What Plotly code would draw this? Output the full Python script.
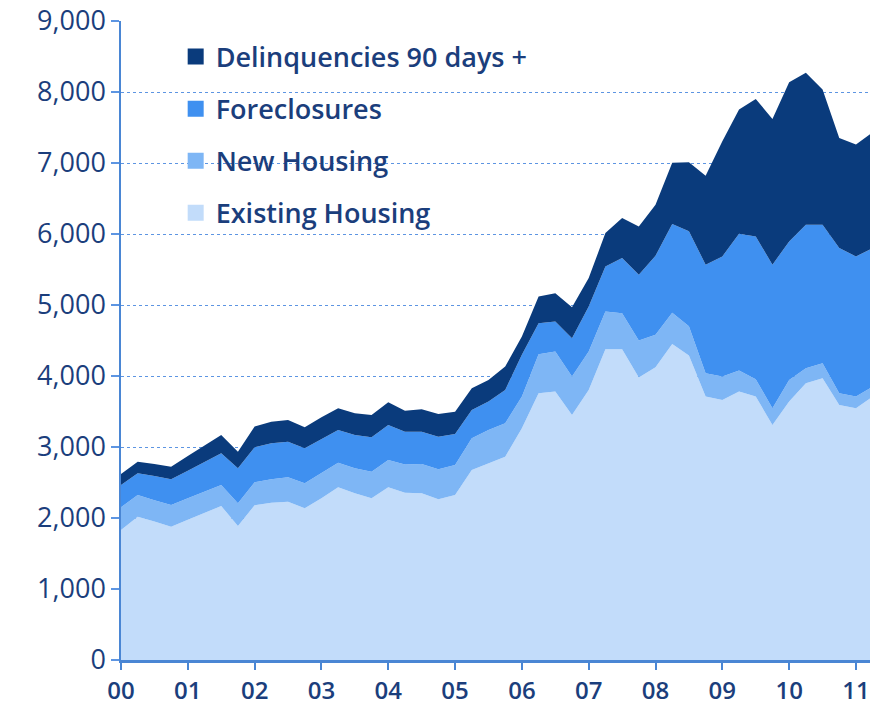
import plotly.graph_objects as go

# Quarterly periods 2000Q1 .. 2011Q2
years = list(range(2000, 2012))
quarter_index = list(range(46))
periods = [2000 + q / 4 for q in quarter_index]

year_ticks = years
year_labels = ["00", "01", "02", "03", "04", "05", "06", "07", "08", "09", "10", "11"]

existing_housing = [1830, 2018, 1950, 1877, 1974, 2072, 2169, 1887, 2180, 2215,
                    2229, 2136, 2277, 2432, 2348, 2277, 2432, 2356, 2348, 2263,
                    2324, 2676, 2771, 2864, 3264, 3758, 3781, 3452, 3804, 4378,
                    4378, 3978, 4124, 4450, 4290, 3710, 3663, 3780, 3710, 3311,
                    3640, 3899, 3969, 3593, 3546, 3710]
new_housing = [320, 306, 300, 306, 303, 299, 296, 320, 325, 330,
               344, 353, 361, 347, 352, 375, 385, 399, 413, 423,
               423, 447, 469, 471, 446, 547, 563, 540, 540, 530,
               507, 522, 456, 440, 410, 330, 329, 297, 245, 235,
               305, 211, 212, 165, 164, 141]
foreclosures = [315, 306, 340, 362, 390, 418, 446, 493, 490, 508,
                502, 493, 471, 461, 470, 485, 494, 461, 455, 460,
                437, 399, 400, 469, 588, 439, 423, 541, 635, 635,
                776, 926, 1114, 1250, 1340, 1527, 1692, 1927, 2011, 2021,
                1951, 2021, 1950, 2044, 1974, 1951]
delinquencies = [155, 163, 170, 178, 205, 232, 259, 234, 295, 304,
                 306, 296, 310, 306, 306, 315, 320, 294, 316, 320,
                 314, 306, 305, 329, 258, 376, 400, 437, 400, 471,
                 564, 681, 719, 865, 969, 1255, 1621, 1748, 1937, 2054,
                 2241, 2139, 1903, 1551, 1575, 1630]

y_ticks = list(range(0, 10000, 1000))

NAVY = "#1b3e7c"
AXIS = "#4a86d4"
GRID = "#5d95e2"

series = [
    ("Existing Housing", existing_housing, "#c2dcfa"),
    ("New Housing", new_housing, "#7eb6f5"),
    ("Foreclosures", foreclosures, "#3f90f0"),
    ("Delinquencies 90 days +", delinquencies, "#0a3b7c"),
]

fig = go.Figure()
for name, vals, color in series:
    fig.add_trace(go.Scatter(
        x=periods, y=vals, name=name, stackgroup="one", mode="lines",
        line=dict(width=0, color=color), fillcolor=color, showlegend=False,
        hoverinfo="x+y+name"))

# legend entries (square swatches), top to bottom
for name, vals, color in reversed(series):
    fig.add_trace(go.Scatter(
        x=[None], y=[None], mode="markers", name=name, legendgroup=name,
        marker=dict(symbol="square", size=16, color=color), showlegend=True))

fig.update_layout(
    width=870, height=706,
    margin=dict(l=121, r=0, t=21, b=46),
    plot_bgcolor="white", paper_bgcolor="white",
    font=dict(family="Open Sans", color=NAVY, size=22),
    showlegend=True,
    legend=dict(x=0.073, y=0.982, xanchor="left", yanchor="top",
                bgcolor="rgba(0,0,0,0)", tracegroupgap=14,
                traceorder="grouped",
                font=dict(size=27, color=NAVY, family="Open Sans", weight=600)),
    xaxis=dict(range=[2000, 2011.21], tickvals=year_ticks, ticktext=year_labels,
               showline=True, linecolor=AXIS, linewidth=3,
               ticks="outside", ticklen=7, tickwidth=2, tickcolor=AXIS,
               showgrid=False, zeroline=False,
               tickfont=dict(size=24, color=NAVY, family="Open Sans", weight=600)),
    yaxis=dict(range=[0, 9000], tickvals=y_ticks, tickformat=",",
               showline=True, linecolor=AXIS, linewidth=1.5,
               ticks="outside", ticklen=8, tickwidth=1.5, tickcolor=GRID,
               showgrid=True, gridcolor=GRID, gridwidth=1.3, griddash="dot",
               zeroline=False,
               tickfont=dict(size=27, color=NAVY, family="Open Sans")),
)

fig.write_html("out.html",
               config={"displayModeBar": False},
               post_script="document.body.style.margin='0';document.body.style.overflow='hidden';")
